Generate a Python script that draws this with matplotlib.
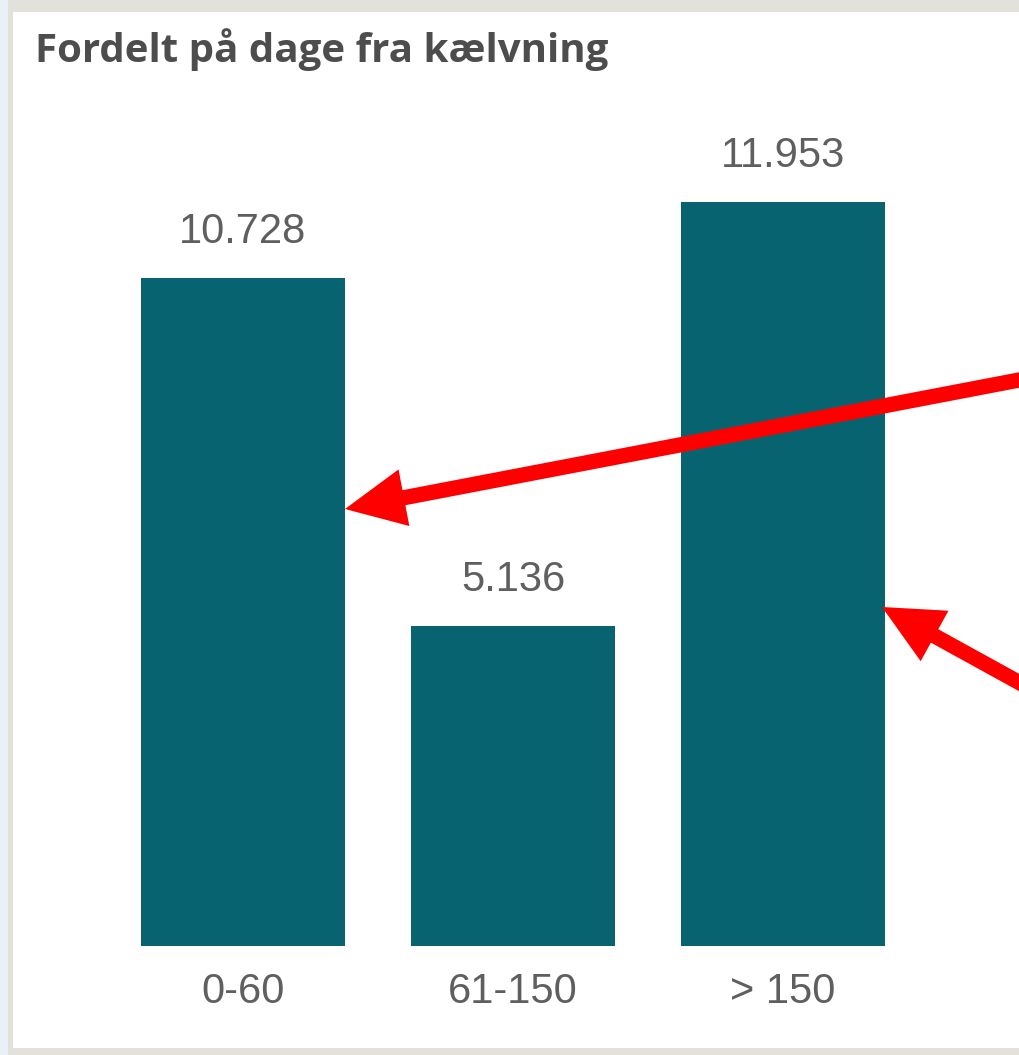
import matplotlib
matplotlib.use("Agg")
from matplotlib import pyplot as plt
from matplotlib.patches import Rectangle, FancyArrowPatch

# data
categories = ["0-60", "61-150", "> 150"]
values = [10728, 5136, 11953]
value_labels = ["10.728", "5.136", "11.953"]
title = "Fordelt på dage fra kælvning"

W, H = 1020, 1055
BAR_COLOR = "#086370"
TEXT_COLOR = "#5f5f5f"


def px(x, y):  # pixel (from top-left) -> figure fraction
    return x / W, 1 - y / H


fig = plt.figure(figsize=(W / 100, H / 100), dpi=100)
fig.patch.set_facecolor("#e9f0f8")

# panel frame + white card
fig.patches.append(Rectangle(px(8, H), (W - 8) / W, 1, transform=fig.transFigure,
                             facecolor="#e2e2da", edgecolor="none", zorder=-2))
fig.patches.append(Rectangle(px(13, 1048), (W - 13) / W, (1048 - 12) / H, transform=fig.transFigure,
                             facecolor="white", edgecolor="none", zorder=-1))

# axes: full width, baseline at y=946px
ax = fig.add_axes([0, 1 - 946 / H, 1, (946 - 100) / H])
ax.set_zorder(1)
ax.set_facecolor("none")
ax.bar(range(len(values)), values, width=0.755, color=BAR_COLOR)
ax.set_xlim(-243 / 270, (W - 243) / 270)
ax.set_ylim(0, (946 - 100) / 0.06227)

for i, (v, lab) in enumerate(zip(values, value_labels)):
    ax.annotate(lab, (i, v), xytext=(0, 25), textcoords="offset points",
                ha="center", va="baseline", fontsize=30, color=TEXT_COLOR,
                family="Liberation Sans")

ax.set_xticks(range(len(categories)))
ax.set_xticklabels(categories, fontsize=30, color=TEXT_COLOR, family="Liberation Sans")
ax.tick_params(axis="x", length=0, pad=19)
ax.set_yticks([])
for s in ax.spines.values():
    s.set_visible(False)

fig.text(*px(35, 62), title, fontsize=29, fontweight="bold", color="#4d4d4d",
         family="Open Sans", ha="left", va="baseline")

# red arrows
for start, tip in [((1040, 376), (345, 509)), ((1040, 694), (882, 607))]:
    arr = FancyArrowPatch(px(*start), px(*tip), transform=fig.transFigure,
                          arrowstyle="-|>,head_length=25,head_width=12",
                          mutation_scale=1, color="#ff0000", lw=11,
                          joinstyle="miter", capstyle="butt",
                          shrinkA=0, shrinkB=0, zorder=5)
    fig.patches.append(arr)

fig.savefig("out.png", dpi=100, facecolor=fig.get_facecolor())
